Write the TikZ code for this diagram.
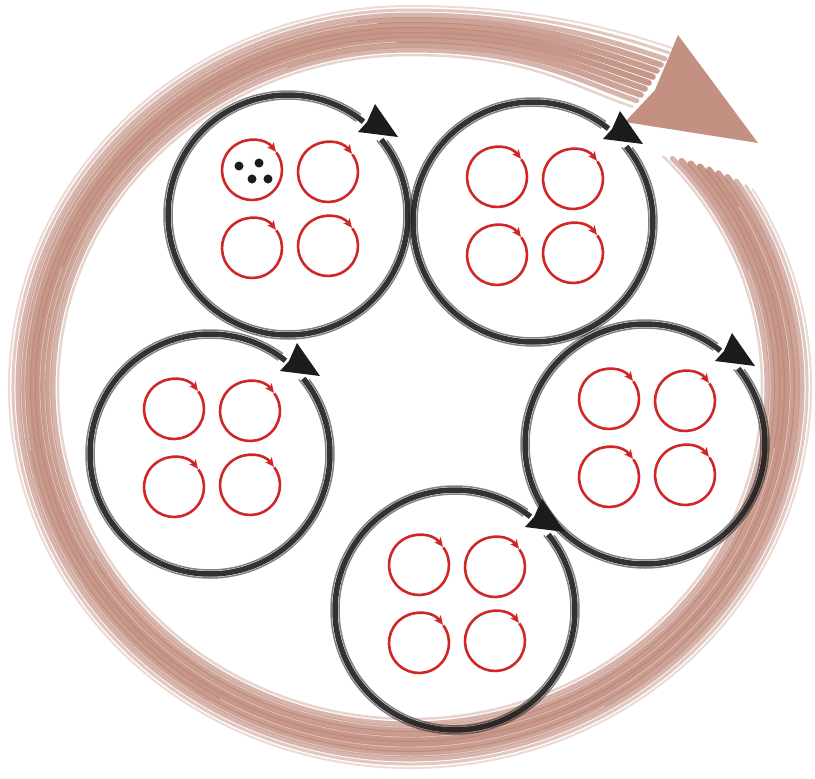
\documentclass[tikz,border=0pt]{standalone}
\usetikzlibrary{arrows.meta}
\definecolor{ringbrown}{RGB}{188,132,116}
\definecolor{inkblack}{RGB}{28,28,28}
\definecolor{inkred}{RGB}{208,38,38}
\tikzset{
  redloop/.style={draw=inkred, line width=2.6pt, -{Stealth[length=9pt,width=8pt,inset=2pt]}},
  blackcore/.style={draw=inkblack, line width=5.5pt, opacity=0.9},
  blackedge/.style={draw=inkblack, line width=1.5pt, opacity=0.55},
  brownstroke/.style={draw=ringbrown, line cap=round},
  dotmark/.style={fill=inkblack},
}
\begin{document}
\begin{tikzpicture}[x=1pt,y=-1pt]
\useasboundingbox (0,0) rectangle (815,779);
% ---- big brown cycle ----
\foreach \dd/\ww/\oo in {-24/2.5/0.35, -19/5/0.6, -14/6/0.75, -9/6/0.8, -4/6/0.85, 1/6/0.85, 6/6/0.8, 11/6/0.75, 16/5/0.6, 21/3/0.45, 25/2/0.3}{
  \pgfmathsetmacro\sa{-44+(\dd+24)*0.26}
  \pgfmathsetmacro\rxx{376+\dd}
  \pgfmathsetmacro\ryy{356+\dd}
  \pgfmathsetmacro\sxx{410+\rxx*cos(\sa)}
  \pgfmathsetmacro\syy{387+\ryy*sin(\sa)}
  \pgfmathsetmacro\exx{652+0.8*\dd}
  \pgfmathsetmacro\eyy{78-1.2*\dd}
  \pgfmathsetmacro\lw{\ww}
  \draw[brownstroke, line width=\lw pt, opacity=\oo]
    (\sxx,\syy)
    arc[start angle=\sa, end angle=270, x radius=\rxx, y radius=\ryy]
    .. controls +(120,0) and +(-60,-20) .. (\exx,\eyy);
}
% pencil texture: light streaks inside the band
\foreach \dd/\sa/\ea in {-16/-20/250, -6/10/200, 4/-30/120, 13/60/262, -11/150/268, 9/170/265}{
  \pgfmathsetmacro\rxx{376+\dd}
  \pgfmathsetmacro\ryy{356+\dd}
  \pgfmathsetmacro\sxx{410+\rxx*cos(\sa)}
  \pgfmathsetmacro\syy{387+\ryy*sin(\sa)}
  \draw[white, line width=0.9pt, opacity=0.45, line cap=round]
    (\sxx,\syy) arc[start angle=\sa, end angle=\ea, x radius=\rxx, y radius=\ryy];
}
\coordinate (bhtop) at (678,35);
\coordinate (bhtip) at (758,143);
\coordinate (bhleft) at (625,122);
\coordinate (bhnotch) at (655,90);
\fill[ringbrown, opacity=0.9] (bhtop) -- (bhtip) -- (bhleft) -- (bhnotch) -- cycle;
% ---- black cycles with red loops ----
\foreach \nn/\cx/\cy in {A/288/215, B/533/222, C/210/454, D/645/444, E/455/610}{
  \begin{scope}[shift={(\cx,\cy)}]
    \coordinate (\nn) at (0,0);
    \draw[blackcore] (-39:120) arc[start angle=-39, end angle=309, radius=120];
    \draw[blackedge] (-40:116) arc[start angle=-40, end angle=306, radius=116];
    \draw[blackedge] (-37:124) arc[start angle=-37, end angle=306, radius=124];
    \fill[inkblack] (87,-111) -- (110,-78) -- (70,-83) -- (79,-93) -- cycle;
    \foreach \ox/\oy in {-36/-45, 40/-43, -36/33, 40/31}{
      \draw[redloop] ([shift={(\ox,\oy)}]-36:30) arc[start angle=-36, end angle=323, radius=30];
    }
  \end{scope}
}
% ---- dots ----
\fill[dotmark] (239,166) circle[radius=4.5];
\fill[dotmark] (259,163) circle[radius=4.5];
\fill[dotmark] (252,179) circle[radius=4.5];
\fill[dotmark] (268,179) circle[radius=4.5];
\end{tikzpicture}
\end{document}
